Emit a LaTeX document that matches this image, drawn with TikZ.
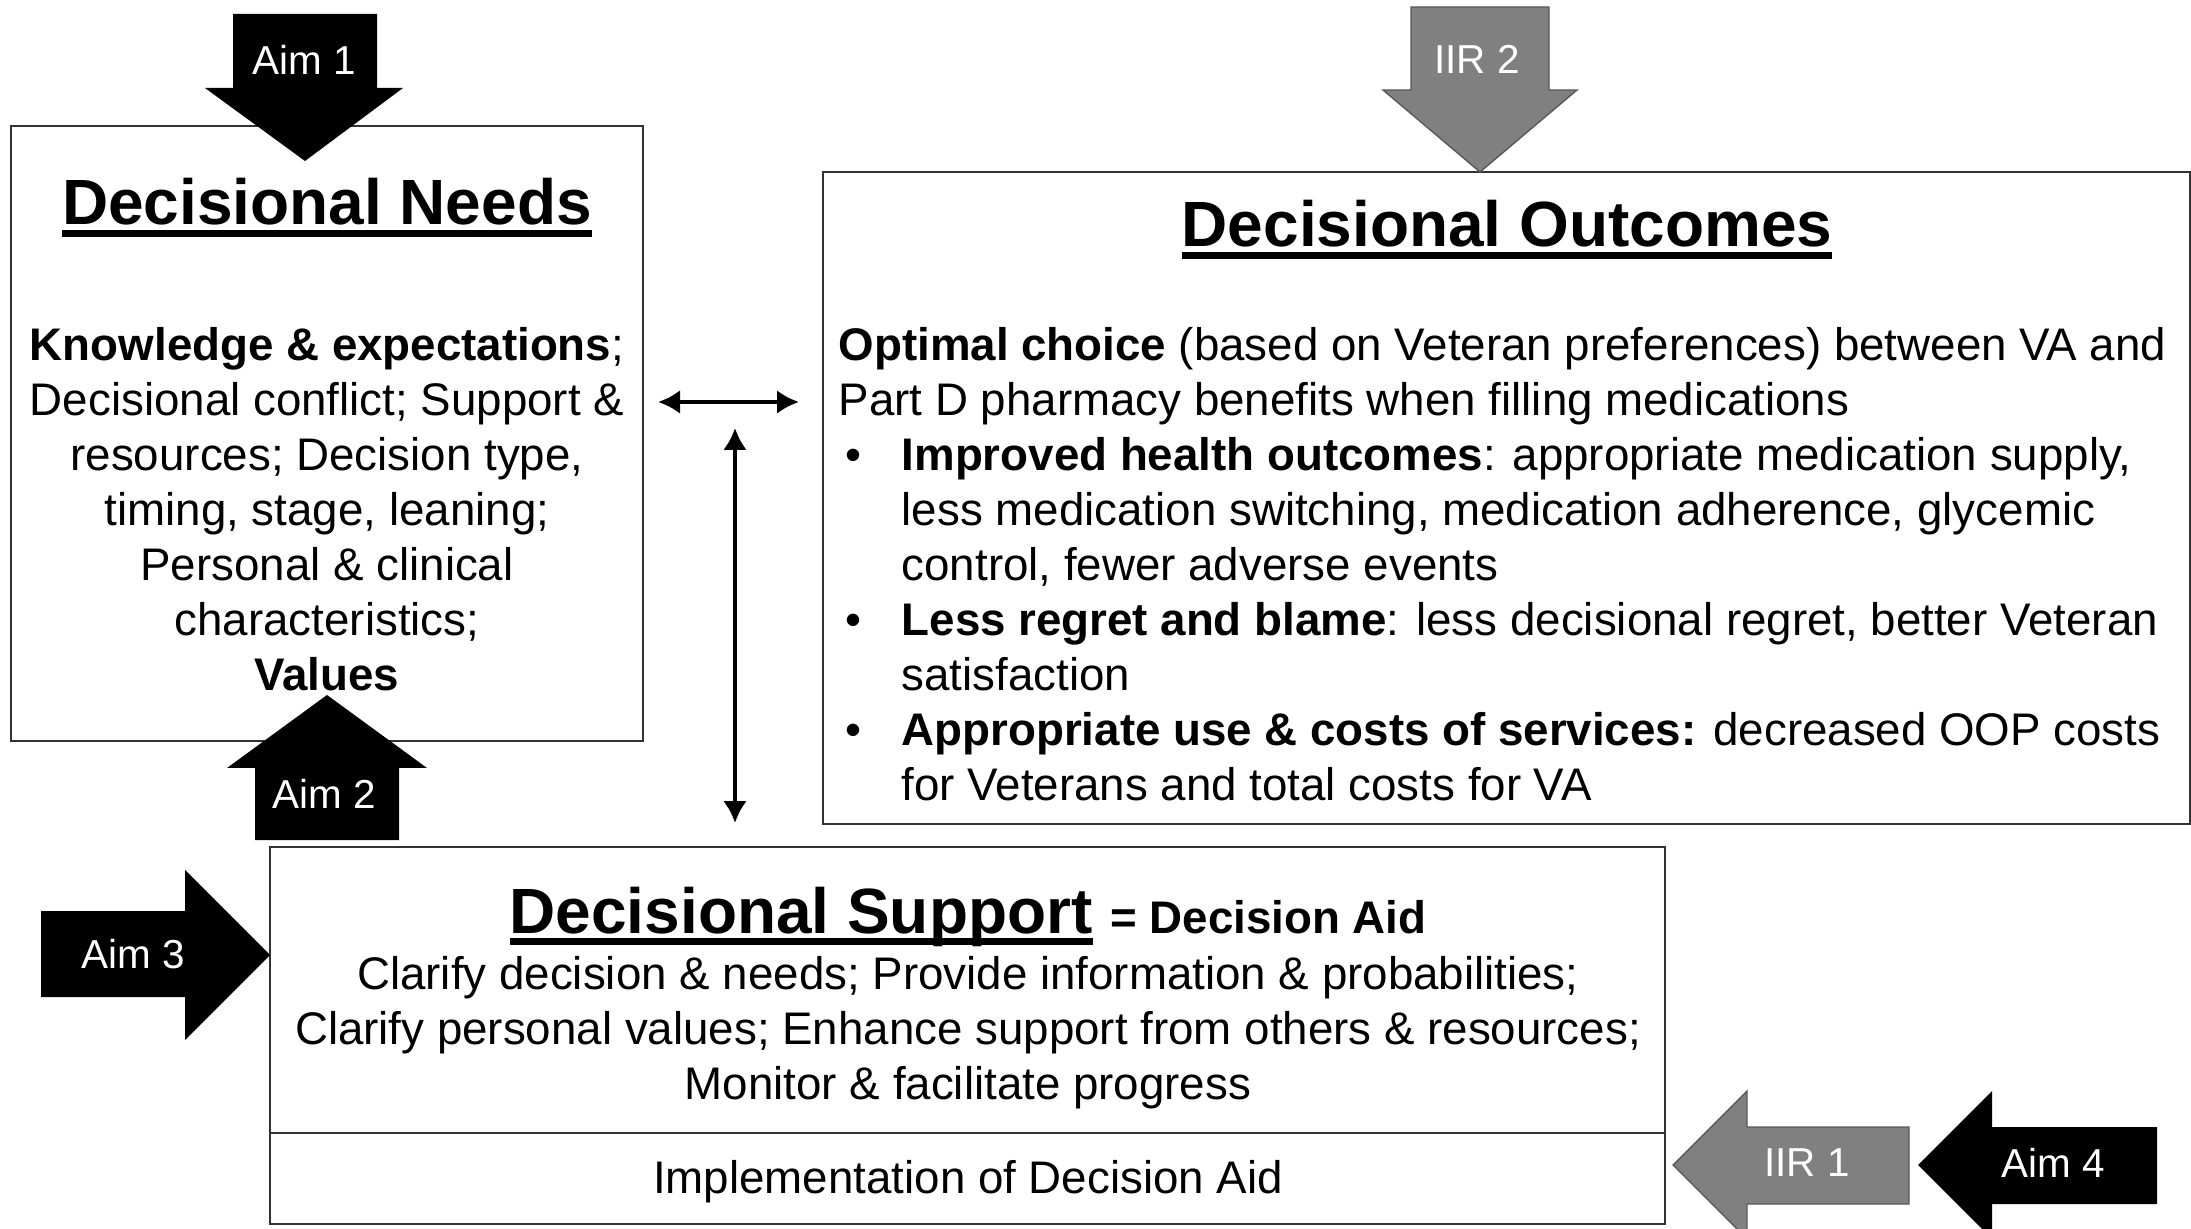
\documentclass[tikz,border=0pt]{standalone}
\usepackage{fontspec}
\setmainfont{Liberation Sans}
\usetikzlibrary{arrows.meta,fit}
\newcommand{\ttlunder}[1]{\setbox0\hbox{#1}\rlap{\rule[-3.3pt]{\wd0}{1.8pt}}\box0\relax}
\newcommand{\bitem}{\makebox[6.3mm][l]{\hspace{0.7mm}\textbullet}}
\newcommand{\bindent}{\hspace*{6.3mm}}
\tikzset{
  panel/.style={draw=black!80, line width=0.5pt, inner sep=0pt},
  heading/.style={font=\fontsize{18.2}{22}\selectfont\bfseries, anchor=base, inner sep=0pt},
  bodytext/.style={font=\fontsize{13}{15.65}\selectfont, inner sep=0pt},
  aimarrow/.style={fill=black},
  iirarrow/.style={fill=black!50, draw=black!65, line width=0.4pt},
  arrowlabel/.style={text=white, font=\fontsize{11.5}{13}\selectfont, inner sep=0pt},
  link/.style={line width=1.4pt, {Latex[length=2.2mm,width=2.4mm]}-{Latex[length=2.2mm,width=2.4mm]}}
}
\begin{document}
\begin{tikzpicture}[x=0.1mm, y=-0.1mm]
\useasboundingbox (0,0) rectangle (2191,1229);

% the three panels
\node [panel, fit={(11,126) (643,741)}] (needs) {};
\node [panel, fit={(823,172) (2190,824)}] (outcomes) {};
\node [panel, fit={(270,847) (1665,1133)}] (support) {};
\node [panel, fit={(270,1133) (1665,1224)}] (implement) {};

\node [heading] (needstitle) at (327,225) {\ttlunder{Decisional Needs}};
\node [bodytext, align=center] (needsbody) at (327,509) {%
  \textbf{Knowledge \& expectations};\\
  Decisional conflict; Support \&\\
  resources; Decision type,\\
  timing, stage, leaning;\\
  Personal \& clinical\\
  characteristics;\\
  \textbf{Values}};

\node [heading] (outtitle) at (1507,247) {\ttlunder{Decisional Outcomes}};
\node [bodytext, align=left, anchor=west] (outbody) at (838,564) {%
  \textbf{Optimal choice} (based on Veteran preferences) between VA and\\
  Part D pharmacy benefits when filling medications\\
  \bitem\textbf{Improved health outcomes}: appropriate medication supply,\\
  \bindent less medication switching, medication adherence, glycemic\\
  \bindent control, fewer adverse events\\
  \bitem\textbf{Less regret and blame}: less decisional regret, better Veteran\\
  \bindent satisfaction\\
  \bitem\textbf{Appropriate use \& costs of services:} decreased OOP costs\\
  \bindent for Veterans and total costs for VA};

\node [heading] (suptitle) at (968,933) {\ttlunder{Decisional Support}
  {\fontsize{13}{15.65}\selectfont = Decision Aid}};
\node [bodytext, align=center] (supbody) at (968,1033) {%
  Clarify decision \& needs; Provide information \& probabilities;\\
  Clarify personal values; Enhance support from others \& resources;\\
  Monitor \& facilitate progress};
\node [bodytext, anchor=base] (impltext) at (968,1193) {Implementation of Decision Aid};

% links between panels
\coordinate (lr1) at (658,402);
\coordinate (lr2) at (799,402);
\coordinate (ud1) at (735,428);
\coordinate (ud2) at (735,823);
\draw [link] (lr1) -- (lr2);
\draw [link] (ud1) -- (ud2);

% aim and IIR arrows
\fill [aimarrow] (233,14) -- (377,14) -- (377,88) -- (403,88) -- (305,161)
  -- (205,88) -- (233,88) -- cycle;
\node [arrowlabel] (aim1) at (304,60) {Aim 1};

\filldraw [iirarrow] (1411,7) -- (1549,7) -- (1549,90) -- (1577,90) -- (1480,172)
  -- (1383,90) -- (1411,90) -- cycle;
\node [arrowlabel] (iir2) at (1477,59) {IIR 2};

\fill [aimarrow] (255,840) -- (399,840) -- (399,768) -- (427,768) -- (327,695)
  -- (227,768) -- (255,768) -- cycle;
\node [arrowlabel] (aim2) at (324,794) {Aim 2};

\fill [aimarrow] (41,911) -- (185,911) -- (185,870) -- (270,955) -- (185,1040)
  -- (185,997) -- (41,997) -- cycle;
\node [arrowlabel] (aim3) at (133,954) {Aim 3};

\filldraw [iirarrow] (1909,1127) -- (1747,1127) -- (1747,1091) -- (1673,1165)
  -- (1747,1239) -- (1747,1204) -- (1909,1204) -- cycle;
\node [arrowlabel] (iir1) at (1807,1163) {IIR 1};

\fill [aimarrow] (2157,1127) -- (1992,1127) -- (1992,1091) -- (1918,1165)
  -- (1992,1239) -- (1992,1204) -- (2157,1204) -- cycle;
\node [arrowlabel] (aim4) at (2053,1163) {Aim 4};

\end{tikzpicture}
\end{document}
